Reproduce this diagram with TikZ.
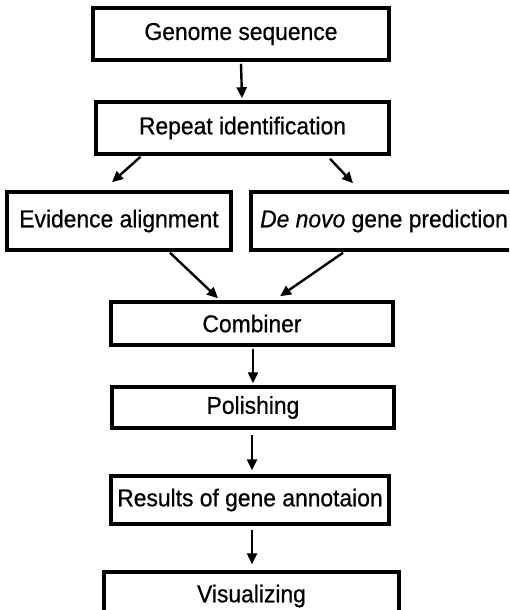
\documentclass[tikz,border=0pt]{standalone}
\usepackage{fontspec}
\setmainfont{Liberation Sans}[FakeStretch=0.94,FakeBold=0.6]
\usetikzlibrary{arrows.meta}
\begin{document}
\begin{tikzpicture}[x=1pt,y=-1pt,
  box/.style={draw=black, line width=3.5pt, fill=white, inner sep=0pt,
    font=\fontsize{24.3}{28}\selectfont, anchor=center},
  arr/.style={line width=2.4pt, -{Triangle[length=11pt,width=10pt]}}]
\clip (0,0) rectangle (509,610);
\fill[white] (0,0) rectangle (509,610);
\node[box, minimum width=296pt, minimum height=52pt] (gs) at (241,34) {Genome sequence};
\node[box, minimum width=293pt, minimum height=52pt] (ri) at (242.5,128) {Repeat identification};
\node[box, minimum width=224pt, minimum height=58pt] (ev) at (119,221) {Evidence alignment};
\node[box, minimum width=266pt, minimum height=58pt] (dn) at (384,221) {\textit{De novo} gene prediction};
\node[box, minimum width=282pt, minimum height=43pt] (cb) at (252,323.5) {Combiner};
\node[box, minimum width=282pt, minimum height=41pt] (po) at (253,407.5) {Polishing};
\node[box, minimum width=278pt, minimum height=48pt] (rs) at (250,500) {Results of gene annotaion};
\node[box, minimum width=295pt, minimum height=48pt] (vi) at (251.5,596) {Visualizing};
\draw[arr] ([yshift=-2pt]gs.south) -- ([xshift=-0.5pt,yshift=2pt]ri.north);
\draw[arr] ([xshift=-102pt,yshift=-1pt]ri.south) -- ([xshift=-7pt,yshift=8pt]ev.north);
\draw[arr] ([xshift=87.5pt,yshift=-3pt]ri.south) -- ([xshift=-31pt,yshift=7pt]dn.north);
\draw[arr] ([xshift=51pt,yshift=-1pt]ev.south) -- ([xshift=-34pt,yshift=2pt]cb.north);
\draw[arr] ([xshift=-41pt,yshift=-1pt]dn.south) -- ([xshift=28pt,yshift=4pt]cb.north);
\draw[arr] ([xshift=1pt,yshift=-2pt]cb.south) -- ([xshift=0pt,yshift=2pt]po.north);
\draw[arr] ([xshift=-1pt,yshift=-5pt]po.south) -- ([xshift=2pt,yshift=4pt]rs.north);
\draw[arr] ([xshift=2pt,yshift=-4pt]rs.south) -- ([xshift=0.5pt,yshift=6pt]vi.north);
\end{tikzpicture}
\end{document}
